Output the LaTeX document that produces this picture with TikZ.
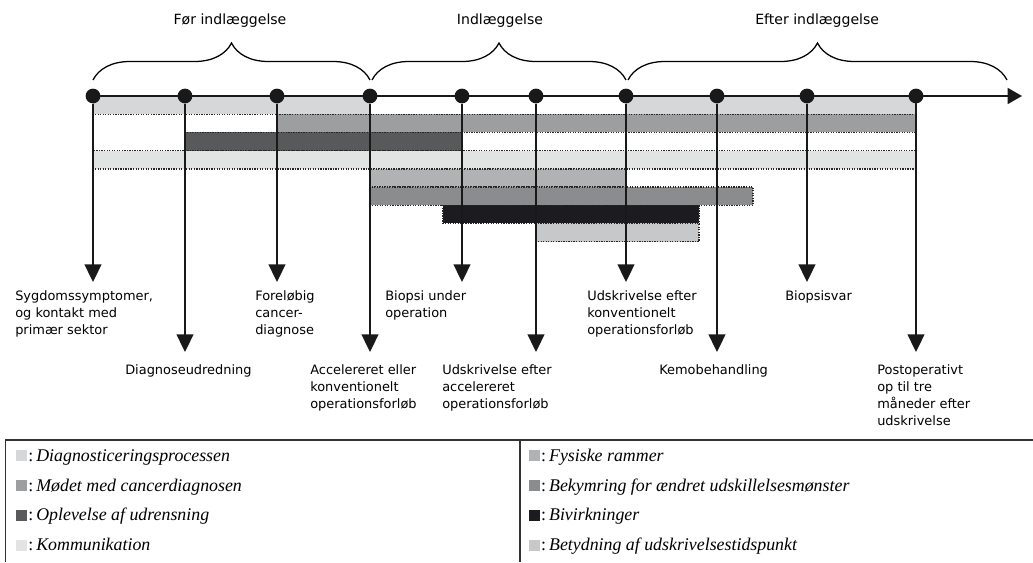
\documentclass[tikz,border=0pt]{standalone}
\usepackage{fontspec}
\setmainfont{Liberation Serif}
\newfontfamily\labelfont{DejaVu Sans}
\usepackage{tikz}
\usetikzlibrary{arrows.meta}
\usetikzlibrary{positioning}
\usetikzlibrary{decorations.pathreplacing}
\definecolor{diagnose}{RGB}{214, 215, 217}
\definecolor{moedet}{RGB}{157, 158, 160}
\definecolor{udrensning}{RGB}{88, 89, 91}
\definecolor{kommunik}{RGB}{226, 227, 227}
\definecolor{fysisk}{RGB}{177, 178, 179}
\definecolor{bekymring}{RGB}{139, 140, 142}
\definecolor{bivirkning}{RGB}{28, 27, 31}
\definecolor{udskrivning}{RGB}{199, 200, 201}
\tikzset{
  eventdot/.style={circle, fill=black!90, inner sep=0pt, minimum size=0.37cm},
  timeaxis/.style={line width=1.3pt, black!90, -{Triangle[width=0.40cm, length=0.36cm]}},
  eventarrow/.style={line width=1.1pt, black!90, -{Triangle[width=0.42cm, length=0.44cm]}},
  phasebrace/.style={line width=0.9pt, decorate, decoration={brace, amplitude=0.925cm}},
  phaselabel/.style={font=\labelfont\fontsize{10.0}{12}\selectfont},
  eventlabel/.style={font=\labelfont\fontsize{9.2}{12.1}\selectfont, align=left, anchor=north west, inner sep=0pt},
  barbox/.style={draw=black!85, line width=1pt, dash pattern=on 0.9pt off 0.9pt},
  legswatch/.style={rectangle, inner sep=0pt, minimum size=0.275cm},
  legtext/.style={font=\fontsize{12.7}{14}\selectfont, inner sep=0pt},
  legline/.style={line width=1pt, black!80}
}
\begin{document}
\begin{tikzpicture}
            \useasboundingbox                                 ( 0.000,  0.000) rectangle (25.825,-14.050);
            % Phases
            \draw[phasebrace]                                 ( 2.325, -2.000) -- ( 9.250, -2.000);
            \draw[phasebrace]                                 ( 9.300, -2.000) -- (15.650, -2.000);
            \draw[phasebrace]                                 (15.700, -2.000) -- (25.175, -2.000);
            \node[phaselabel] (foer)                       at ( 5.750, -0.520) {Før indlæggelse};
            \node[phaselabel] (indl)                       at (12.500, -0.520) {Indlæggelse};
            \node[phaselabel] (efter)                      at (20.430, -0.520) {Efter indlæggelse};
            % Bars
            \filldraw[barbox, fill=diagnose]                  ( 2.325, -2.400) rectangle ( 9.250, -2.855);
            \filldraw[barbox, fill=diagnose]                  (15.650, -2.400) rectangle (22.900, -2.855);
            \filldraw[barbox, fill=moedet]                    ( 6.925, -2.855) rectangle (22.900, -3.310);
            \filldraw[barbox, fill=udrensning]                ( 4.625, -3.310) rectangle (11.550, -3.765);
            \filldraw[barbox, fill=kommunik]                  ( 2.325, -3.765) rectangle (22.900, -4.220);
            \filldraw[barbox, fill=fysisk]                    ( 9.250, -4.220) rectangle (15.650, -4.675);
            \filldraw[barbox, fill=bekymring]                 ( 9.250, -4.675) rectangle (18.825, -5.130);
            \filldraw[barbox, fill=bivirkning]                (11.075, -5.130) rectangle (17.475, -5.585);
            \filldraw[barbox, fill=udskrivning]               (13.400, -5.585) rectangle (17.475, -6.040);
            % Events on the time line
            \node[eventdot] (e1)                           at ( 2.325, -2.400) {};
            \node[eventdot] (e2)                           at ( 4.625, -2.400) {};
            \node[eventdot] (e3)                           at ( 6.925, -2.400) {};
            \node[eventdot] (e4)                           at ( 9.250, -2.400) {};
            \node[eventdot] (e5)                           at (11.550, -2.400) {};
            \node[eventdot] (e6)                           at (13.400, -2.400) {};
            \node[eventdot] (e7)                           at (15.650, -2.400) {};
            \node[eventdot] (e8)                           at (17.925, -2.400) {};
            \node[eventdot] (e9)                           at (20.175, -2.400) {};
            \node[eventdot] (e10)                          at (22.900, -2.400) {};
            \coordinate (axisend)                          at (25.550, -2.400);
            \coordinate (t1)                               at ( 2.325, -7.050);
            \coordinate (t2)                               at ( 4.625, -8.800);
            \coordinate (t3)                               at ( 6.925, -7.050);
            \coordinate (t4)                               at ( 9.250, -8.800);
            \coordinate (t5)                               at (11.550, -7.050);
            \coordinate (t6)                               at (13.400, -8.800);
            \coordinate (t7)                               at (15.650, -7.050);
            \coordinate (t8)                               at (17.925, -8.800);
            \coordinate (t9)                               at (20.175, -7.050);
            \coordinate (t10)                              at (22.900, -8.800);
            \draw[timeaxis]                                   (e1) -- (axisend);
            \draw[eventarrow]                                 (e1) -- (t1);
            \draw[eventarrow]                                 (e2) -- (t2);
            \draw[eventarrow]                                 (e3) -- (t3);
            \draw[eventarrow]                                 (e4) -- (t4);
            \draw[eventarrow]                                 (e5) -- (t5);
            \draw[eventarrow]                                 (e6) -- (t6);
            \draw[eventarrow]                                 (e7) -- (t7);
            \draw[eventarrow]                                 (e8) -- (t8);
            \draw[eventarrow]                                 (e9) -- (t9);
            \draw[eventarrow]                                 (e10) -- (t10);
            % Event labels
            \node[eventlabel] (symptom)                    at ( 0.375, -7.250) {Sygdomssymptomer,\\og kontakt med\\primær sektor};
            \node[eventlabel] (udredning)                  at ( 3.125, -9.100) {Diagnoseudredning};
            \node[eventlabel] (foreloebig)                 at ( 6.375, -7.250) {Foreløbig\\cancer-\\diagnose};
            \node[eventlabel] (forloeb)                    at ( 7.750, -9.100) {Accelereret eller\\konventionelt\\operationsforløb};
            \node[eventlabel] (biopsi)                     at ( 9.625, -7.250) {Biopsi under\\operation};
            \node[eventlabel] (udskracc)                   at (11.050, -9.100) {Udskrivelse efter\\accelereret\\operationsforløb};
            \node[eventlabel] (udskrkonv)                  at (14.675, -7.250) {Udskrivelse efter\\konventionelt\\operationsforløb};
            \node[eventlabel] (kemo)                       at (16.475, -9.100) {Kemobehandling};
            \node[eventlabel] (biopsisvar)                 at (19.625, -7.250) {Biopsisvar};
            \node[eventlabel] (postop)                     at (21.925, -9.100) {Postoperativt\\op til tre\\måneder efter\\udskrivelse};
            % Legend frame
            \draw[legline]                                    ( 0.140,-14.050) -- ( 0.140,-11.000) -- (25.825,-11.000);
            \draw[legline]                                    (13.000,-11.000) -- (13.000,-14.050);
            % Legend, left column
            \node[legswatch, fill=diagnose] (s1)           at ( 0.540,-11.390) {};
            \node[legswatch, fill=moedet] (s2)             at ( 0.540,-12.140) {};
            \node[legswatch, fill=udrensning] (s3)         at ( 0.540,-12.875) {};
            \node[legswatch, fill=kommunik] (s4)           at ( 0.540,-13.625) {};
            \node[legtext, right=0.5pt of s1.south east, anchor=base west] (k1) {:\,\textit{Diagnosticeringsprocessen}};
            \node[legtext, right=0.5pt of s2.south east, anchor=base west] (k2) {:\,\textit{Mødet med cancerdiagnosen}};
            \node[legtext, right=0.5pt of s3.south east, anchor=base west] (k3) {:\,\textit{Oplevelse af udrensning}};
            \node[legtext, right=0.5pt of s4.south east, anchor=base west] (k4) {:\,\textit{Kommunikation}};
            % Legend, right column
            \node[legswatch, fill=fysisk] (s5)             at (13.360,-11.390) {};
            \node[legswatch, fill=bekymring] (s6)          at (13.360,-12.140) {};
            \node[legswatch, fill=bivirkning] (s7)         at (13.360,-12.875) {};
            \node[legswatch, fill=udskrivning] (s8)        at (13.360,-13.625) {};
            \node[legtext, right=0.5pt of s5.south east, anchor=base west] (k5) {:\,\textit{Fysiske rammer}};
            \node[legtext, right=0.5pt of s6.south east, anchor=base west] (k6) {:\,\textit{Bekymring for ændret udskillelsesmønster}};
            \node[legtext, right=0.5pt of s7.south east, anchor=base west] (k7) {:\,\textit{Bivirkninger}};
            \node[legtext, right=0.5pt of s8.south east, anchor=base west] (k8) {:\,\textit{Betydning af udskrivelsestidspunkt}};
\end{tikzpicture}
\end{document}
